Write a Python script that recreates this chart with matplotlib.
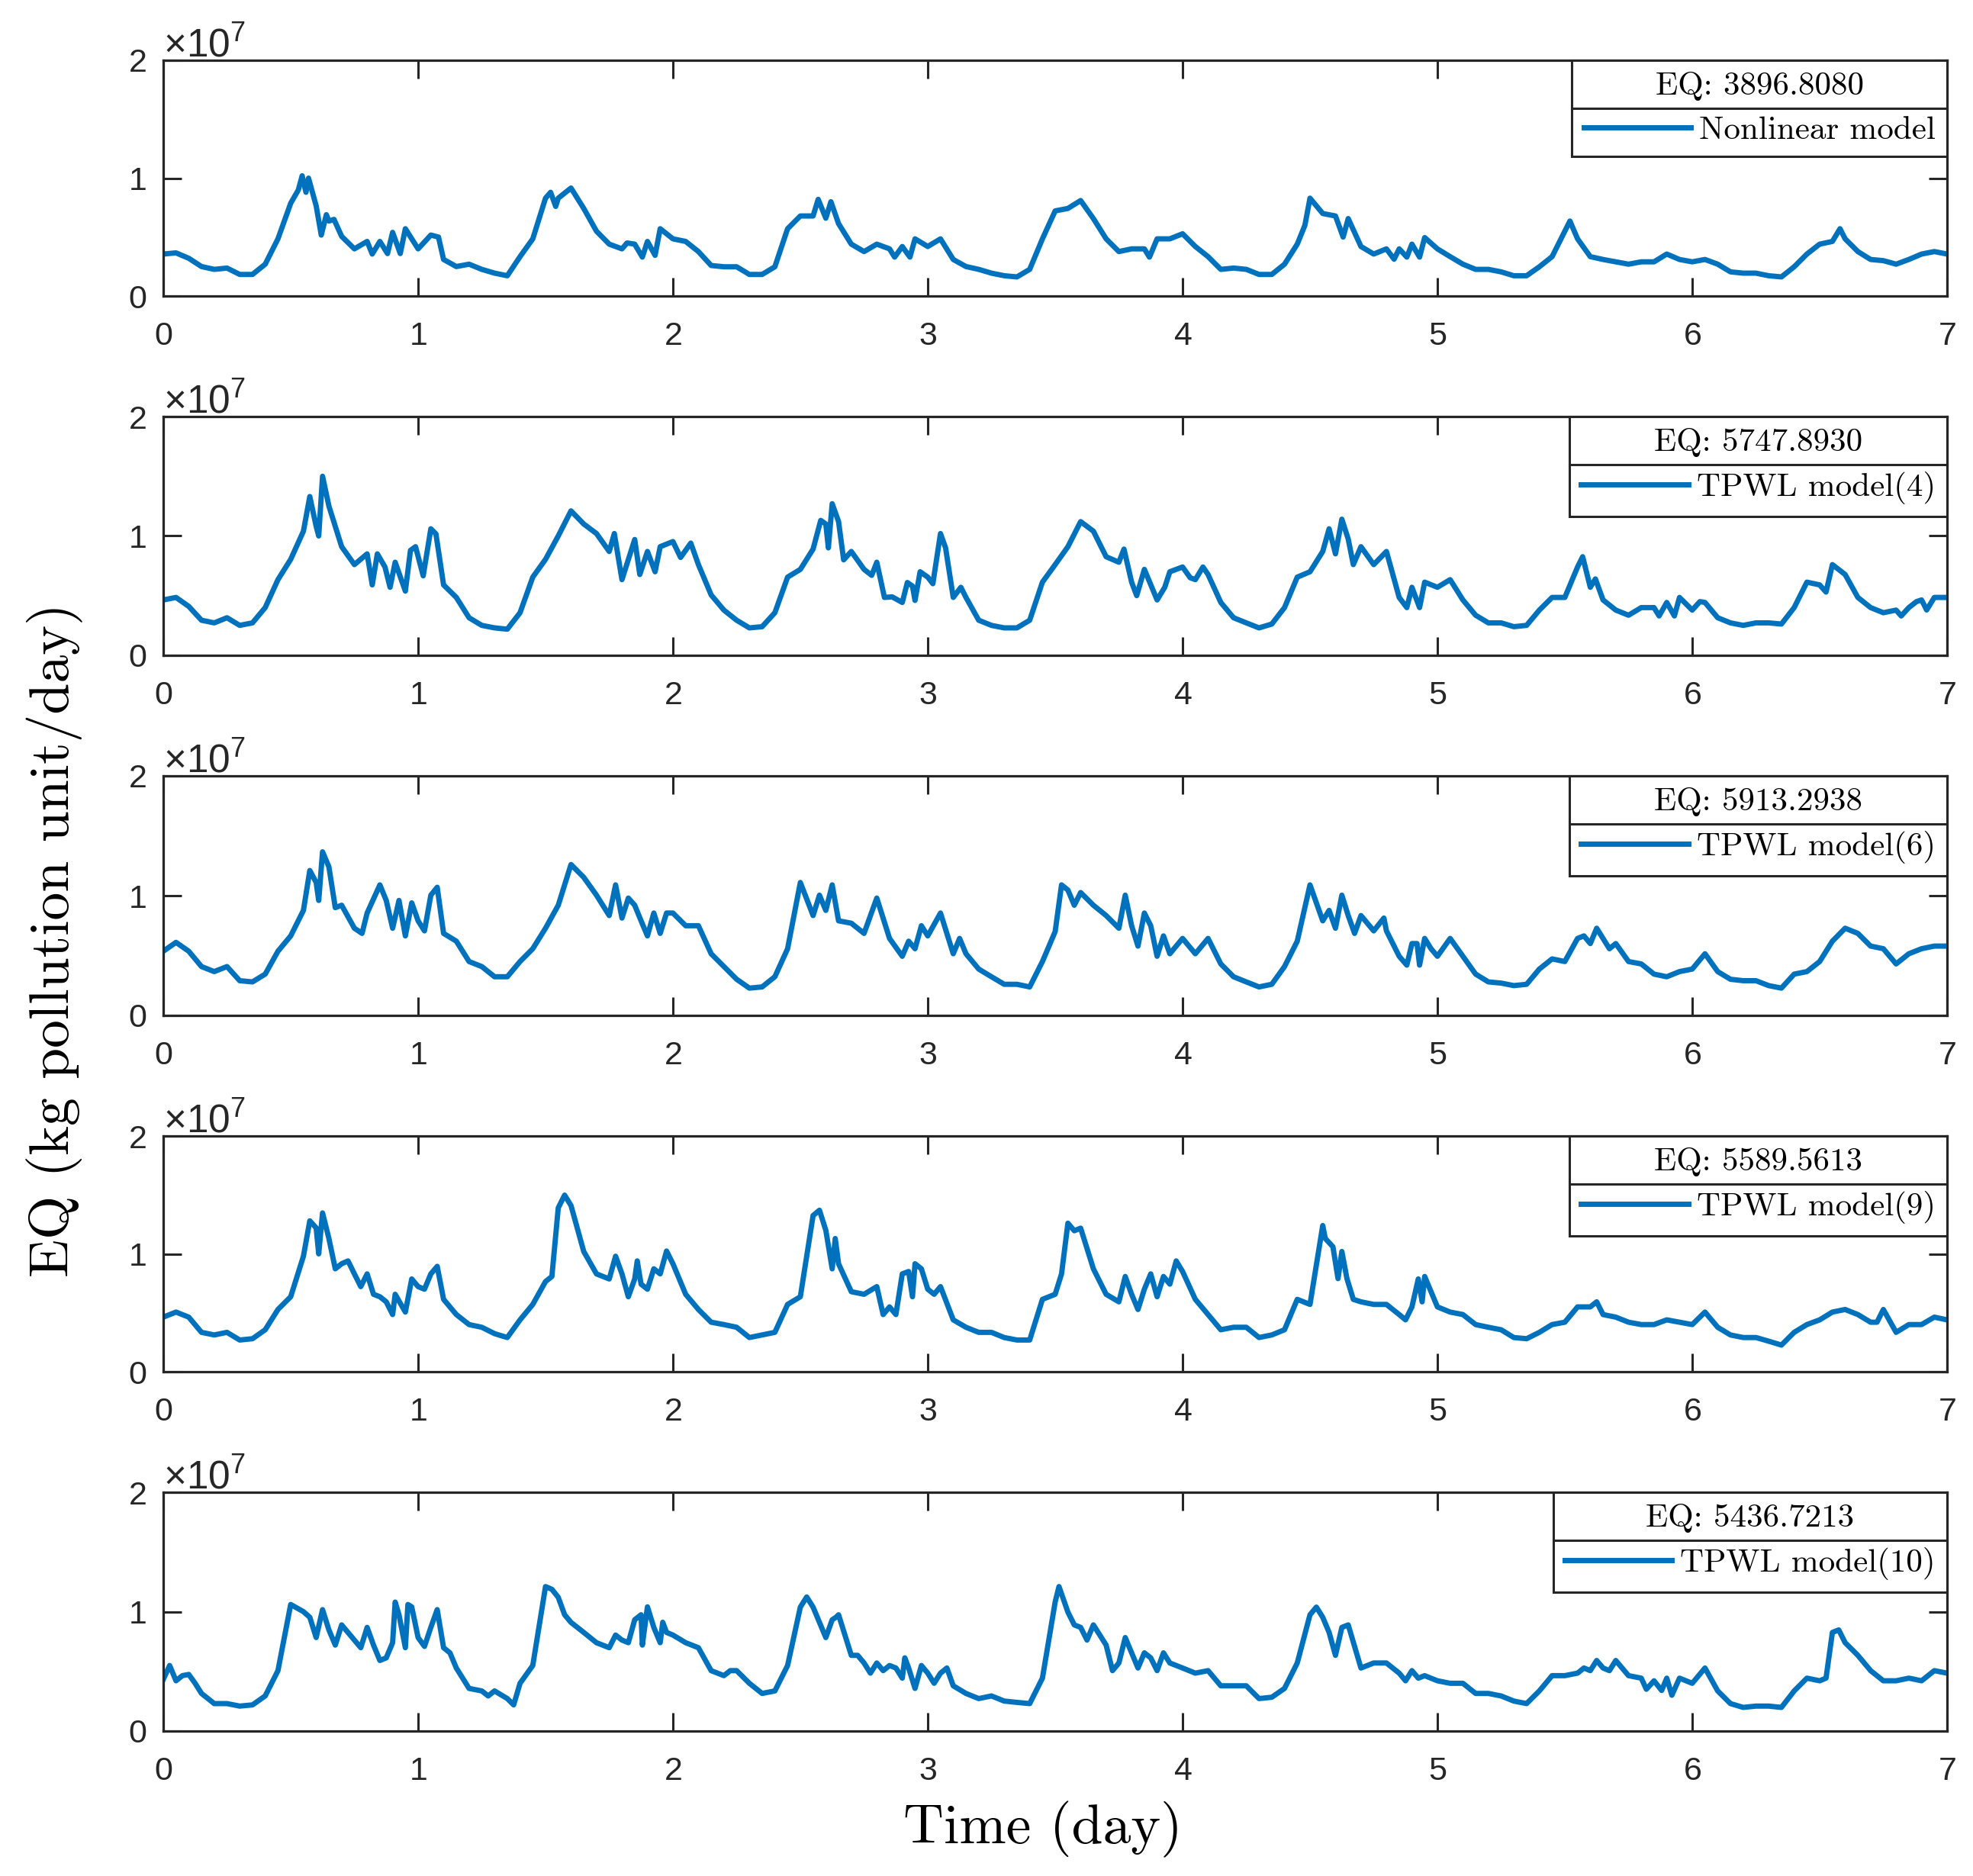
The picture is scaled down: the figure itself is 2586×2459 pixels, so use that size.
import numpy as np
import matplotlib
matplotlib.use('Agg')
import matplotlib.pyplot as plt
from matplotlib.lines import Line2D

# Canvas: 2586 x 2459 px
W, H, DPI = 2586, 2459, 100

# EQ series, (time [day], EQ [x1e7 kg pollution unit/day])
nonlinear = [
    (0, 0.356), (0.05, 0.366), (0.1, 0.32), (0.15, 0.25), (0.2, 0.226), (0.25, 0.237),
    (0.3, 0.183), (0.35, 0.183), (0.4, 0.27), (0.45, 0.485), (0.5, 0.787), (0.53, 0.90),
    (0.545, 1.02), (0.56, 0.88), (0.57, 1.0), (0.6, 0.765), (0.62, 0.517), (0.64, 0.69),
    (0.65, 0.636), (0.67, 0.65), (0.7, 0.506), (0.75, 0.40), (0.8, 0.463), (0.82, 0.356),
    (0.85, 0.463), (0.88, 0.36), (0.9, 0.54), (0.93, 0.36), (0.95, 0.571), (1.0, 0.40),
    (1.05, 0.517), (1.08, 0.50), (1.1, 0.31), (1.15, 0.25), (1.2, 0.27), (1.25, 0.226),
    (1.3, 0.194), (1.35, 0.172), (1.4, 0.334), (1.45, 0.485), (1.5, 0.83), (1.52, 0.88),
    (1.54, 0.76), (1.55, 0.83), (1.6, 0.916), (1.65, 0.743), (1.7, 0.55), (1.75, 0.44),
    (1.8, 0.40), (1.82, 0.45), (1.85, 0.44), (1.88, 0.33), (1.9, 0.463), (1.93, 0.345),
    (1.95, 0.571), (2.0, 0.485), (2.05, 0.463), (2.1, 0.377), (2.15, 0.259), (2.2, 0.248),
    (2.25, 0.248), (2.3, 0.183), (2.35, 0.183), (2.4, 0.248), (2.45, 0.571), (2.5, 0.679),
    (2.55, 0.679), (2.57, 0.82), (2.6, 0.66), (2.62, 0.80), (2.65, 0.614), (2.7, 0.44),
    (2.75, 0.377), (2.8, 0.44), (2.85, 0.40), (2.87, 0.33), (2.9, 0.42), (2.93, 0.33),
    (2.95, 0.485), (3.0, 0.42), (3.05, 0.485), (3.1, 0.31), (3.15, 0.25), (3.2, 0.226),
    (3.25, 0.194), (3.3, 0.172), (3.35, 0.162), (3.4, 0.226), (3.45, 0.485), (3.5, 0.722),
    (3.55, 0.743), (3.6, 0.81), (3.65, 0.657), (3.7, 0.485), (3.75, 0.377), (3.8, 0.40),
    (3.85, 0.40), (3.87, 0.33), (3.9, 0.485), (3.95, 0.485), (4.0, 0.528), (4.05, 0.42),
    (4.1, 0.334), (4.15, 0.226), (4.2, 0.237), (4.25, 0.226), (4.3, 0.183), (4.35, 0.183),
    (4.4, 0.27), (4.45, 0.44), (4.48, 0.60), (4.5, 0.83), (4.55, 0.70), (4.6, 0.679),
    (4.63, 0.50), (4.65, 0.657), (4.7, 0.42), (4.75, 0.356), (4.8, 0.40), (4.83, 0.312),
    (4.85, 0.40), (4.88, 0.33), (4.9, 0.44), (4.93, 0.33), (4.95, 0.496), (5.0, 0.40),
    (5.05, 0.334), (5.1, 0.27), (5.15, 0.226), (5.2, 0.226), (5.25, 0.205), (5.3, 0.172),
    (5.35, 0.172), (5.4, 0.248), (5.45, 0.334), (5.5, 0.55), (5.52, 0.636), (5.55, 0.485),
    (5.6, 0.334), (5.65, 0.31), (5.7, 0.29), (5.75, 0.27), (5.8, 0.29), (5.85, 0.29),
    (5.9, 0.356), (5.95, 0.31), (6.0, 0.29), (6.05, 0.31), (6.1, 0.27), (6.15, 0.205),
    (6.2, 0.194), (6.25, 0.194), (6.3, 0.172), (6.35, 0.162), (6.4, 0.248), (6.45, 0.356),
    (6.5, 0.44), (6.55, 0.463), (6.58, 0.571), (6.6, 0.485), (6.65, 0.377), (6.7, 0.31),
    (6.75, 0.30), (6.8, 0.27), (6.85, 0.31), (6.9, 0.356), (6.95, 0.377), (7.0, 0.356),
]

tpwl4 = [
    (0, 0.464), (0.05, 0.485), (0.1, 0.41), (0.15, 0.294), (0.2, 0.272), (0.25, 0.315),
    (0.3, 0.251), (0.35, 0.272), (0.4, 0.40), (0.45, 0.634), (0.5, 0.804), (0.55, 1.04),
    (0.575, 1.33), (0.6, 1.08), (0.61, 1.0), (0.625, 1.50), (0.65, 1.25), (0.7, 0.91),
    (0.75, 0.76), (0.8, 0.85), (0.82, 0.59), (0.84, 0.85), (0.87, 0.74), (0.89, 0.57),
    (0.91, 0.78), (0.95, 0.538), (0.97, 0.879), (0.99, 0.91), (1.02, 0.666), (1.05, 1.06),
    (1.07, 1.017), (1.1, 0.59), (1.15, 0.485), (1.2, 0.315), (1.25, 0.251), (1.3, 0.23),
    (1.35, 0.219), (1.4, 0.357), (1.45, 0.655), (1.5, 0.804), (1.55, 1.0), (1.6, 1.21),
    (1.65, 1.10), (1.7, 1.02), (1.75, 0.87), (1.77, 1.02), (1.8, 0.634), (1.85, 0.97),
    (1.87, 0.677), (1.9, 0.87), (1.93, 0.70), (1.95, 0.91), (2.0, 0.953), (2.03, 0.82),
    (2.07, 0.94), (2.1, 0.76), (2.15, 0.506), (2.2, 0.379), (2.25, 0.294), (2.3, 0.23),
    (2.35, 0.24), (2.4, 0.357), (2.45, 0.655), (2.5, 0.72), (2.55, 0.89), (2.58, 1.13),
    (2.6, 1.10), (2.61, 0.90), (2.625, 1.27), (2.65, 1.12), (2.67, 0.80), (2.7, 0.87),
    (2.75, 0.72), (2.78, 0.67), (2.8, 0.78), (2.83, 0.485), (2.86, 0.49), (2.9, 0.443),
    (2.92, 0.61), (2.94, 0.58), (2.95, 0.46), (2.97, 0.70), (3.0, 0.655), (3.02, 0.60),
    (3.05, 1.02), (3.07, 0.90), (3.1, 0.485), (3.13, 0.57), (3.15, 0.485), (3.2, 0.294),
    (3.25, 0.251), (3.3, 0.23), (3.35, 0.23), (3.4, 0.294), (3.45, 0.613), (3.5, 0.76),
    (3.55, 0.91), (3.6, 1.12), (3.65, 1.04), (3.7, 0.826), (3.75, 0.78), (3.77, 0.89),
    (3.8, 0.613), (3.82, 0.50), (3.85, 0.72), (3.9, 0.464), (3.93, 0.57), (3.95, 0.70),
    (4.0, 0.74), (4.03, 0.65), (4.05, 0.634), (4.08, 0.74), (4.1, 0.677), (4.15, 0.443),
    (4.2, 0.315), (4.25, 0.272), (4.3, 0.23), (4.35, 0.262), (4.4, 0.40), (4.45, 0.655),
    (4.5, 0.70), (4.55, 0.87), (4.575, 1.06), (4.6, 0.85), (4.625, 1.14), (4.65, 0.974),
    (4.67, 0.76), (4.7, 0.91), (4.75, 0.76), (4.8, 0.87), (4.85, 0.485), (4.88, 0.40),
    (4.9, 0.57), (4.93, 0.40), (4.95, 0.613), (5.0, 0.57), (5.05, 0.634), (5.1, 0.464),
    (5.15, 0.336), (5.2, 0.272), (5.25, 0.272), (5.3, 0.24), (5.35, 0.251), (5.4, 0.379),
    (5.45, 0.485), (5.5, 0.485), (5.55, 0.74), (5.57, 0.826), (5.6, 0.57), (5.62, 0.64),
    (5.65, 0.464), (5.7, 0.379), (5.75, 0.336), (5.8, 0.40), (5.85, 0.40), (5.87, 0.33),
    (5.9, 0.443), (5.93, 0.33), (5.95, 0.485), (6.0, 0.379), (6.03, 0.45), (6.05, 0.443),
    (6.1, 0.315), (6.15, 0.272), (6.2, 0.251), (6.25, 0.272), (6.3, 0.272), (6.35, 0.262),
    (6.4, 0.40), (6.45, 0.613), (6.5, 0.59), (6.525, 0.53), (6.55, 0.76), (6.6, 0.677),
    (6.65, 0.485), (6.7, 0.40), (6.75, 0.357), (6.8, 0.379), (6.82, 0.33), (6.85, 0.40),
    (6.88, 0.45), (6.9, 0.464), (6.92, 0.38), (6.95, 0.485), (7.0, 0.485),
]

tpwl6 = [
    (0, 0.536), (0.05, 0.61), (0.1, 0.536), (0.15, 0.408), (0.2, 0.366), (0.25, 0.408),
    (0.3, 0.29), (0.35, 0.28), (0.4, 0.345), (0.45, 0.536), (0.5, 0.664), (0.55, 0.877),
    (0.575, 1.21), (0.6, 1.11), (0.61, 0.96), (0.625, 1.366), (0.65, 1.24), (0.675, 0.90),
    (0.7, 0.92), (0.75, 0.728), (0.78, 0.685), (0.8, 0.855), (0.85, 1.09), (0.875, 0.96),
    (0.9, 0.728), (0.925, 0.96), (0.95, 0.664), (0.975, 0.94), (1.0, 0.79), (1.025, 0.706),
    (1.05, 1.004), (1.075, 1.07), (1.1, 0.685), (1.15, 0.62), (1.2, 0.45), (1.25, 0.408),
    (1.3, 0.323), (1.35, 0.323), (1.4, 0.45), (1.45, 0.557), (1.5, 0.728), (1.55, 0.92),
    (1.6, 1.26), (1.65, 1.153), (1.7, 1.004), (1.75, 0.834), (1.775, 1.09), (1.8, 0.813),
    (1.825, 0.98), (1.85, 0.92), (1.875, 0.79), (1.9, 0.664), (1.925, 0.855), (1.95, 0.685),
    (1.975, 0.855), (2.0, 0.855), (2.05, 0.749), (2.1, 0.749), (2.15, 0.515), (2.2, 0.408),
    (2.25, 0.302), (2.3, 0.228), (2.35, 0.238), (2.4, 0.323), (2.45, 0.557), (2.5, 1.11),
    (2.55, 0.834), (2.575, 1.004), (2.6, 0.877), (2.625, 1.09), (2.65, 0.79), (2.7, 0.77),
    (2.75, 0.685), (2.8, 0.98), (2.85, 0.643), (2.9, 0.494), (2.925, 0.62), (2.95, 0.557),
    (2.975, 0.749), (3.0, 0.664), (3.05, 0.855), (3.1, 0.515), (3.125, 0.643), (3.15, 0.515),
    (3.2, 0.387), (3.25, 0.323), (3.3, 0.26), (3.35, 0.26), (3.4, 0.238), (3.45, 0.45),
    (3.5, 0.70), (3.525, 1.09), (3.55, 1.047), (3.575, 0.92), (3.6, 1.026), (3.65, 0.92),
    (3.7, 0.834), (3.75, 0.728), (3.775, 1.004), (3.8, 0.749), (3.825, 0.579), (3.85, 0.855),
    (3.875, 0.749), (3.9, 0.494), (3.925, 0.664), (3.95, 0.515), (4.0, 0.643), (4.05, 0.515),
    (4.1, 0.643), (4.15, 0.43), (4.2, 0.323), (4.25, 0.28), (4.3, 0.238), (4.35, 0.26),
    (4.4, 0.408), (4.45, 0.62), (4.5, 1.09), (4.55, 0.79), (4.575, 0.877), (4.6, 0.728),
    (4.625, 1.004), (4.65, 0.834), (4.675, 0.685), (4.7, 0.834), (4.75, 0.706), (4.79, 0.813),
    (4.8, 0.706), (4.85, 0.494), (4.88, 0.42), (4.9, 0.60), (4.92, 0.60), (4.93, 0.42),
    (4.95, 0.643), (4.975, 0.557), (5.0, 0.494), (5.05, 0.643), (5.1, 0.494), (5.15, 0.345),
    (5.2, 0.28), (5.25, 0.27), (5.3, 0.249), (5.35, 0.26), (5.4, 0.387), (5.45, 0.472),
    (5.5, 0.45), (5.55, 0.643), (5.575, 0.664), (5.6, 0.60), (5.625, 0.728), (5.65, 0.643),
    (5.675, 0.557), (5.7, 0.60), (5.75, 0.45), (5.8, 0.43), (5.85, 0.345), (5.9, 0.323),
    (5.95, 0.366), (6.0, 0.387), (6.05, 0.515), (6.1, 0.366), (6.15, 0.302), (6.2, 0.29),
    (6.25, 0.29), (6.3, 0.249), (6.35, 0.228), (6.4, 0.345), (6.45, 0.366), (6.5, 0.45),
    (6.55, 0.62), (6.6, 0.728), (6.65, 0.685), (6.7, 0.579), (6.75, 0.557), (6.8, 0.43),
    (6.85, 0.515), (6.9, 0.557), (6.95, 0.579), (7.0, 0.579),
]

tpwl9 = [
    (0, 0.463), (0.05, 0.506), (0.1, 0.463), (0.15, 0.334), (0.2, 0.312), (0.25, 0.334),
    (0.3, 0.269), (0.35, 0.28), (0.4, 0.356), (0.45, 0.528), (0.5, 0.636), (0.55, 0.98),
    (0.575, 1.28), (0.6, 1.22), (0.61, 1.0), (0.625, 1.347), (0.65, 1.13), (0.675, 0.873),
    (0.7, 0.916), (0.725, 0.94), (0.75, 0.83), (0.775, 0.722), (0.8, 0.83), (0.825, 0.657),
    (0.85, 0.636), (0.875, 0.593), (0.9, 0.485), (0.91, 0.657), (0.95, 0.506), (0.975, 0.787),
    (1.0, 0.722), (1.025, 0.70), (1.05, 0.83), (1.075, 0.894), (1.1, 0.614), (1.15, 0.485),
    (1.2, 0.40), (1.25, 0.377), (1.3, 0.323), (1.35, 0.29), (1.4, 0.44), (1.45, 0.571),
    (1.5, 0.765), (1.525, 0.808), (1.55, 1.39), (1.575, 1.498), (1.6, 1.41), (1.65, 1.02),
    (1.7, 0.83), (1.75, 0.787), (1.775, 0.98), (1.8, 0.83), (1.825, 0.636), (1.85, 0.787),
    (1.86, 0.94), (1.875, 0.743), (1.9, 0.70), (1.925, 0.873), (1.95, 0.83), (1.975, 1.024),
    (2.0, 0.916), (2.05, 0.657), (2.1, 0.528), (2.15, 0.42), (2.2, 0.40), (2.25, 0.377),
    (2.3, 0.29), (2.35, 0.312), (2.4, 0.334), (2.45, 0.571), (2.5, 0.636), (2.55, 1.325),
    (2.575, 1.37), (2.6, 1.20), (2.625, 0.873), (2.637, 1.13), (2.65, 0.916), (2.7, 0.679),
    (2.75, 0.657), (2.8, 0.722), (2.825, 0.485), (2.85, 0.55), (2.875, 0.485), (2.9, 0.83),
    (2.925, 0.85), (2.94, 0.636), (2.95, 0.916), (2.975, 0.873), (3.0, 0.70), (3.025, 0.657),
    (3.05, 0.722), (3.1, 0.44), (3.15, 0.377), (3.2, 0.334), (3.25, 0.334), (3.3, 0.29),
    (3.35, 0.269), (3.4, 0.269), (3.45, 0.614), (3.5, 0.657), (3.525, 0.83), (3.55, 1.26),
    (3.575, 1.196), (3.6, 1.218), (3.65, 0.873), (3.7, 0.657), (3.75, 0.593), (3.775, 0.808),
    (3.8, 0.657), (3.825, 0.528), (3.85, 0.70), (3.875, 0.83), (3.9, 0.636), (3.925, 0.808),
    (3.95, 0.743), (3.975, 0.94), (4.0, 0.85), (4.05, 0.614), (4.1, 0.485), (4.15, 0.356),
    (4.2, 0.377), (4.25, 0.377), (4.3, 0.29), (4.35, 0.312), (4.4, 0.356), (4.45, 0.614),
    (4.5, 0.571), (4.55, 1.24), (4.56, 1.13), (4.59, 1.06), (4.61, 0.79), (4.625, 1.02),
    (4.645, 0.79), (4.67, 0.614), (4.7, 0.593), (4.75, 0.571), (4.8, 0.571), (4.85, 0.485),
    (4.875, 0.44), (4.9, 0.55), (4.925, 0.787), (4.94, 0.593), (4.95, 0.808), (5.0, 0.55),
    (5.05, 0.506), (5.1, 0.485), (5.15, 0.40), (5.2, 0.377), (5.25, 0.356), (5.3, 0.29),
    (5.35, 0.28), (5.4, 0.334), (5.45, 0.40), (5.5, 0.42), (5.55, 0.55), (5.6, 0.55),
    (5.625, 0.593), (5.65, 0.485), (5.7, 0.463), (5.75, 0.42), (5.8, 0.40), (5.85, 0.40),
    (5.9, 0.44), (5.95, 0.42), (6.0, 0.40), (6.05, 0.506), (6.1, 0.377), (6.15, 0.312),
    (6.2, 0.29), (6.25, 0.29), (6.3, 0.259), (6.35, 0.226), (6.4, 0.334), (6.45, 0.40),
    (6.5, 0.44), (6.55, 0.506), (6.6, 0.528), (6.65, 0.485), (6.7, 0.42), (6.725, 0.42),
    (6.75, 0.528), (6.8, 0.334), (6.85, 0.40), (6.9, 0.40), (6.95, 0.463), (7.0, 0.44),
]

tpwl10 = [
    (0, 0.432), (0.025, 0.549), (0.05, 0.421), (0.075, 0.464), (0.1, 0.474), (0.125, 0.40),
    (0.15, 0.315), (0.2, 0.23), (0.25, 0.23), (0.3, 0.209), (0.35, 0.219), (0.4, 0.294),
    (0.45, 0.506), (0.5, 1.06), (0.55, 1.0), (0.575, 0.953), (0.6, 0.783), (0.625, 1.017),
    (0.65, 0.847), (0.675, 0.72), (0.7, 0.889), (0.75, 0.762), (0.775, 0.698), (0.8, 0.868),
    (0.825, 0.72), (0.85, 0.591), (0.875, 0.613), (0.9, 0.74), (0.91, 1.08), (0.925, 0.974),
    (0.95, 0.698), (0.96, 1.06), (0.975, 1.04), (1.0, 0.783), (1.025, 0.709), (1.05, 0.868),
    (1.075, 1.017), (1.1, 0.698), (1.125, 0.655), (1.15, 0.528), (1.2, 0.357), (1.25, 0.336),
    (1.275, 0.294), (1.3, 0.336), (1.35, 0.272), (1.375, 0.219), (1.4, 0.40), (1.45, 0.549),
    (1.5, 1.21), (1.525, 1.187), (1.55, 1.12), (1.575, 0.974), (1.6, 0.91), (1.65, 0.826),
    (1.7, 0.74), (1.75, 0.698), (1.775, 0.804), (1.8, 0.762), (1.825, 0.74), (1.85, 0.932),
    (1.875, 0.974), (1.88, 0.72), (1.9, 1.04), (1.925, 0.868), (1.95, 0.74), (1.96, 0.911),
    (1.975, 0.826), (2.0, 0.804), (2.05, 0.74), (2.1, 0.698), (2.15, 0.506), (2.2, 0.464),
    (2.225, 0.506), (2.25, 0.506), (2.3, 0.40), (2.35, 0.315), (2.4, 0.336), (2.45, 0.549),
    (2.5, 1.038), (2.525, 1.123), (2.55, 1.038), (2.575, 0.91), (2.6, 0.783), (2.625, 0.932),
    (2.64, 0.953), (2.65, 0.974), (2.7, 0.634), (2.725, 0.634), (2.75, 0.57), (2.775, 0.485),
    (2.8, 0.57), (2.825, 0.506), (2.85, 0.549), (2.875, 0.528), (2.9, 0.443), (2.91, 0.613),
    (2.925, 0.528), (2.95, 0.357), (2.975, 0.549), (3.0, 0.485), (3.025, 0.40), (3.05, 0.485),
    (3.075, 0.528), (3.1, 0.379), (3.15, 0.315), (3.2, 0.272), (3.25, 0.294), (3.3, 0.251),
    (3.35, 0.24), (3.4, 0.23), (3.45, 0.443), (3.5, 1.081), (3.515, 1.21), (3.55, 0.996),
    (3.575, 0.889), (3.6, 0.868), (3.625, 0.762), (3.65, 0.889), (3.7, 0.72), (3.725, 0.506),
    (3.75, 0.57), (3.775, 0.783), (3.8, 0.655), (3.825, 0.528), (3.85, 0.655), (3.875, 0.613),
    (3.9, 0.506), (3.925, 0.655), (3.95, 0.57), (4.0, 0.528), (4.05, 0.485), (4.1, 0.506),
    (4.15, 0.379), (4.2, 0.379), (4.25, 0.379), (4.3, 0.272), (4.35, 0.283), (4.4, 0.357),
    (4.45, 0.57), (4.5, 0.974), (4.525, 1.038), (4.55, 0.953), (4.575, 0.826), (4.6, 0.634),
    (4.625, 0.868), (4.65, 0.889), (4.7, 0.528), (4.75, 0.57), (4.8, 0.57), (4.85, 0.485),
    (4.875, 0.421), (4.9, 0.506), (4.925, 0.443), (4.95, 0.464), (5.0, 0.421), (5.05, 0.40),
    (5.1, 0.40), (5.15, 0.315), (5.2, 0.315), (5.25, 0.294), (5.3, 0.251), (5.35, 0.23),
    (5.4, 0.336), (5.45, 0.464), (5.5, 0.464), (5.55, 0.485), (5.575, 0.528), (5.6, 0.506),
    (5.625, 0.591), (5.65, 0.528), (5.675, 0.506), (5.7, 0.591), (5.75, 0.464), (5.8, 0.443),
    (5.82, 0.35), (5.85, 0.421), (5.88, 0.34), (5.9, 0.443), (5.92, 0.30), (5.95, 0.443),
    (6.0, 0.40), (6.05, 0.528), (6.1, 0.336), (6.15, 0.23), (6.2, 0.198), (6.25, 0.209),
    (6.3, 0.209), (6.35, 0.198), (6.4, 0.336), (6.45, 0.443), (6.5, 0.421), (6.525, 0.443),
    (6.55, 0.826), (6.575, 0.847), (6.6, 0.74), (6.65, 0.634), (6.7, 0.506), (6.75, 0.421),
    (6.8, 0.421), (6.85, 0.443), (6.9, 0.421), (6.95, 0.506), (7.0, 0.485),
]

series = [nonlinear, tpwl4, tpwl6, tpwl9, tpwl10]
labels = ['Nonlinear model', 'TPWL model(4)', 'TPWL model(6)', 'TPWL model(9)', 'TPWL model(10)']
eq_titles = ['EQ: 3896.8080', 'EQ: 5747.8930', 'EQ: 5913.2938', 'EQ: 5589.5613', 'EQ: 5436.7213']
scale = 1e7
x_ticks = [0, 1, 2, 3, 4, 5, 6, 7]
y_ticks = [0, 1e7, 2e7]

# panel frames in pixels (top, bottom), shared left/right
panel_px = [(79, 388), (546, 859), (1017, 1331), (1489, 1798), (1956, 2269)]
left_px, right_px = 214, 2552

blue = '#0072BD'
dark = '#262626'
serif = 'cmr10'

plt.rcParams['font.family'] = ['Liberation Sans', 'DejaVu Sans']
plt.rcParams['mathtext.fontset'] = 'custom'
plt.rcParams['mathtext.rm'] = 'Liberation Sans'
plt.rcParams['mathtext.it'] = 'Liberation Sans:italic'
plt.rcParams['axes.formatter.use_mathtext'] = True
plt.rcParams['axes.linewidth'] = 2.3
plt.rcParams['axes.edgecolor'] = dark

fig = plt.figure(figsize=(W / DPI, H / DPI), dpi=DPI)

axes = []
for data, lab, title, (top, bot) in zip(series, labels, eq_titles, panel_px):
    ax = fig.add_axes([left_px / W, 1 - bot / H, (right_px - left_px) / W, (bot - top) / H])
    t, v = np.array(data).T
    line, = ax.plot(t, v * scale, color=blue, lw=5.0)
    ax.set_xlim(0, 7)
    ax.set_ylim(0, 2e7)
    ax.set_xticks(x_ticks)
    ax.set_yticks(y_ticks)
    ax.tick_params(direction='in', length=17, width=2.2, colors=dark, labelsize=31,
                   top=True, right=True)
    ax.tick_params(axis='x', pad=24)
    ax.tick_params(axis='y', pad=16)
    off = ax.yaxis.get_offset_text()
    off.set_fontsize(37)
    off.set_color(dark)
    leg = ax.legend([line], [lab], title=title, loc='upper right', borderaxespad=0,
                    fancybox=False, edgecolor=dark, framealpha=1,
                    prop={'family': serif, 'size': 31},
                    title_fontproperties={'family': serif, 'size': 31},
                    handlelength=3.26, handletextpad=0.26, borderpad=0.35,
                    labelspacing=0.45)
    leg.get_frame().set_linewidth(2.2)
    axes.append((ax, leg))

fig.text(72 / W, 1 - 1232 / H, 'EQ (kg pollution unit/day)', rotation=90,
         ha='center', va='center', family=serif, size=53)
fig.text(1367 / W, (H - 2416) / H, 'Time (day)', ha='center', va='baseline',
         family=serif, size=53)

# separator between legend title and entry, like the boxed MATLAB legend
fig.canvas.draw()
renderer = fig.canvas.get_renderer()
inv = fig.transFigure.inverted()
for ax, leg in axes:
    fb = leg.get_frame().get_window_extent(renderer)
    tb = leg.get_title().get_window_extent(renderer)
    eb = leg.get_texts()[0].get_window_extent(renderer)
    ysep = 0.5 * (tb.y0 + eb.y1)
    (x0, y0), (x1, _) = inv.transform([(fb.x0, ysep), (fb.x1, ysep)])
    fig.add_artist(Line2D([x0, x1], [y0, y0], transform=fig.transFigure,
                          color=dark, lw=2.2, zorder=10))

fig.savefig('out.png', dpi=DPI)
plt.close(fig)
